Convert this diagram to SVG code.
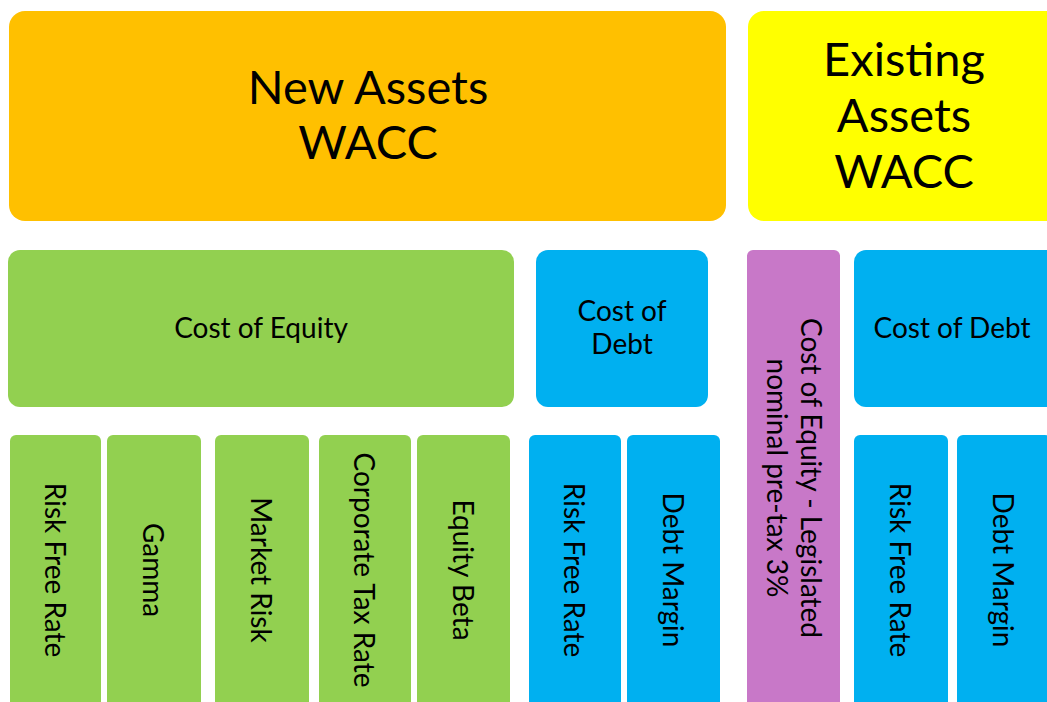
<svg xmlns="http://www.w3.org/2000/svg" width="1047" height="702" viewBox="0 0 1047 702">
  <style>
    .t { font-family: Lato, "Open Sans", sans-serif; fill: #000; text-anchor: middle; dominant-baseline: central; }
    .big { font-size: 47px; }
    .mid { font-size: 28px; }
    .orange { fill: #FFC000; }
    .yellow { fill: #FFFF00; }
    .green { fill: #92D050; }
    .blue { fill: #00B0F0; }
    .purple { fill: #C878C8; }
  </style>
  <rect width="1047" height="702" fill="#fff"/>

  <!-- top row: WACC headers -->
  <g id="new-assets-wacc">
    <rect class="orange" x="9" y="11" width="717" height="210" rx="16"/>
    <text class="t big" x="368" y="86">New Assets</text>
    <text class="t big" x="368" y="141">WACC</text>
  </g>
  <g id="existing-assets-wacc">
    <rect class="yellow" x="748" y="11" width="320" height="210" rx="16"/>
    <text class="t big" x="904" y="58">Existing</text>
    <text class="t big" x="904" y="114">Assets</text>
    <text class="t big" x="904" y="170">WACC</text>
  </g>

  <!-- middle row -->
  <g id="cost-of-equity">
    <rect class="green" x="8" y="250" width="506" height="157" rx="12"/>
    <text class="t mid" x="261" y="327">Cost of Equity</text>
  </g>
  <g id="cost-of-debt-new">
    <rect class="blue" x="536" y="250" width="172" height="157" rx="12"/>
    <text class="t mid" x="622" y="310">Cost of</text>
    <text class="t mid" x="622" y="343">Debt</text>
  </g>
  <g id="cost-of-equity-legislated">
    <rect class="purple" x="747" y="250" width="93" height="470" rx="6"/>
    <g transform="translate(795,478) rotate(90)">
      <text class="t mid" x="0" y="-17">Cost of Equity - Legislated</text>
      <text class="t mid" x="0" y="17">nominal pre-tax 3%</text>
    </g>
  </g>
  <g id="cost-of-debt-existing">
    <rect class="blue" x="854" y="250" width="210" height="157" rx="12"/>
    <text class="t mid" x="952" y="327">Cost of Debt</text>
  </g>

  <!-- bottom row: inputs -->
  <g id="risk-free-rate-equity">
    <rect class="green" x="10" y="435" width="91" height="290" rx="6"/>
    <text class="t mid" transform="translate(55.5,570) rotate(90)">Risk Free Rate</text>
  </g>
  <g id="gamma">
    <rect class="green" x="107" y="435" width="94" height="290" rx="6"/>
    <text class="t mid" transform="translate(154,570) rotate(90)">Gamma</text>
  </g>
  <g id="market-risk">
    <rect class="green" x="215" y="435" width="94" height="290" rx="6"/>
    <text class="t mid" transform="translate(262,570) rotate(90)">Market Risk</text>
  </g>
  <g id="corporate-tax-rate">
    <rect class="green" x="319" y="435" width="92" height="290" rx="6"/>
    <text class="t mid" transform="translate(365,570) rotate(90)">Corporate Tax Rate</text>
  </g>
  <g id="equity-beta">
    <rect class="green" x="417" y="435" width="93" height="290" rx="6"/>
    <text class="t mid" transform="translate(463.5,570) rotate(90)">Equity Beta</text>
  </g>
  <g id="risk-free-rate-debt-new">
    <rect class="blue" x="529" y="435" width="92" height="290" rx="6"/>
    <text class="t mid" transform="translate(575,570) rotate(90)">Risk Free Rate</text>
  </g>
  <g id="debt-margin-new">
    <rect class="blue" x="627" y="435" width="93" height="290" rx="6"/>
    <text class="t mid" transform="translate(673.5,570) rotate(90)">Debt Margin</text>
  </g>
  <g id="risk-free-rate-debt-existing">
    <rect class="blue" x="854" y="435" width="94" height="290" rx="6"/>
    <text class="t mid" transform="translate(901,570) rotate(90)">Risk Free Rate</text>
  </g>
  <g id="debt-margin-existing">
    <rect class="blue" x="957" y="435" width="94" height="290" rx="6"/>
    <text class="t mid" transform="translate(1004,570) rotate(90)">Debt Margin</text>
  </g>

  <!-- no connectors in this layout -->
  <g id="connectors"/>
</svg>
